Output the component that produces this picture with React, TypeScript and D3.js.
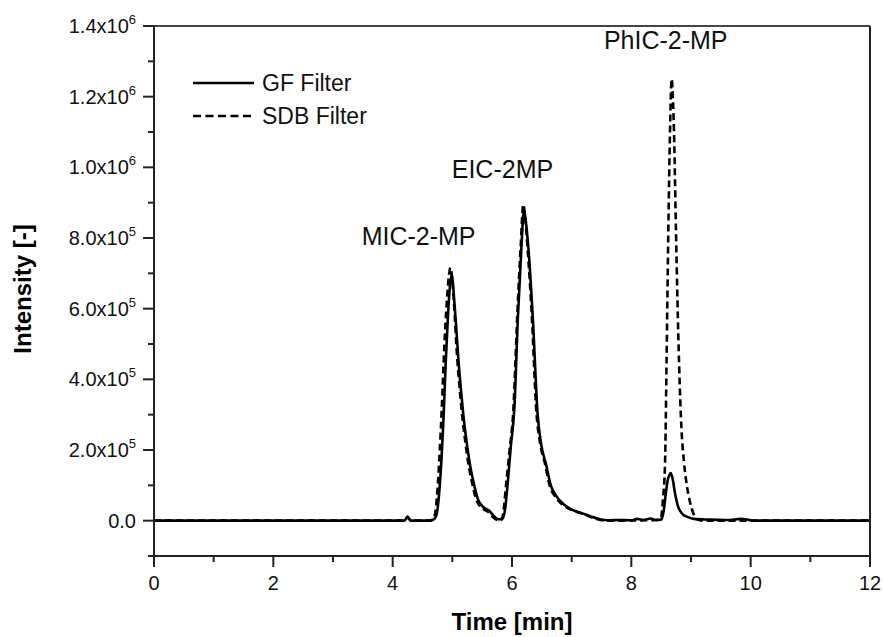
import React from "react";
import * as d3 from "d3";

// ---- Data (time in min, intensity in counts) ----
const gfTime = [0, 4.2, 4.25, 4.3, 4.62, 4.7, 4.74, 4.78, 4.82, 4.85, 4.89, 4.93, 4.97, 4.995, 5.02, 5.06, 5.1, 5.15, 5.19, 5.25, 5.31, 5.36, 5.43, 5.52, 5.62, 5.7, 5.77, 5.84, 5.89, 5.93, 5.98, 6.04, 6.1, 6.16, 6.2, 6.23, 6.28, 6.35, 6.43, 6.49, 6.57, 6.65, 6.74, 6.87, 7.02, 7.16, 7.32, 7.47, 7.6, 7.8, 8.0, 8.1, 8.2, 8.32, 8.4, 8.5, 8.54, 8.58, 8.61, 8.64, 8.66, 8.69, 8.73, 8.78, 8.85, 8.95, 9.05, 9.3, 9.6, 9.85, 9.92, 10.05, 12];
const gfIntensity = [0, 0, 12000, 0, 0, 5000, 20000, 80000, 180000, 280000, 450000, 590000, 680000, 695000, 650000, 560000, 460000, 360000, 290000, 210000, 145000, 105000, 60000, 38000, 28000, 12000, 4000, 5000, 40000, 110000, 210000, 320000, 580000, 780000, 880000, 850000, 760000, 570000, 300000, 215000, 160000, 100000, 70000, 46000, 30000, 22000, 12000, 4000, 1000, 2000, 1000, 5000, 2000, 6000, 2000, 3000, 25000, 80000, 115000, 130000, 135000, 120000, 80000, 42000, 20000, 10000, 5000, 3000, 2000, 5000, 4000, 0, 0];

const sdbTime = [0, 4.2, 4.25, 4.3, 4.6, 4.68, 4.72, 4.76, 4.79, 4.82, 4.865, 4.9, 4.94, 4.97, 5.0, 5.04, 5.07, 5.12, 5.16, 5.22, 5.28, 5.32, 5.4, 5.5, 5.6, 5.68, 5.75, 5.82, 5.86, 5.9, 5.96, 6.02, 6.09, 6.145, 6.19, 6.22, 6.26, 6.33, 6.41, 6.47, 6.55, 6.63, 6.72, 6.85, 7.0, 7.14, 7.3, 7.45, 7.6, 8.45, 8.5, 8.53, 8.565, 8.59, 8.62, 8.648, 8.676, 8.7, 8.715, 8.748, 8.8, 8.84, 8.88, 8.93, 8.98, 9.04, 9.1, 9.2, 12];
const sdbIntensity = [0, 0, 10000, 0, 0, 5000, 30000, 110000, 200000, 305000, 490000, 600000, 690000, 716000, 680000, 580000, 490000, 380000, 305000, 220000, 150000, 116000, 60000, 35000, 25000, 10000, 2000, 2000, 30000, 100000, 200000, 305000, 587000, 774000, 895000, 860000, 774000, 587000, 305000, 220000, 163000, 100000, 69000, 45000, 30000, 22000, 12000, 3000, 0, 2000, 10000, 60000, 163000, 445000, 820000, 1100000, 1250000, 1180000, 1100000, 820000, 445000, 260000, 170000, 100000, 55000, 20000, 4000, 0, 0];

const xTicks = [0, 2, 4, 6, 8, 10, 12];
const xMinorTicks = [1, 3, 5, 7, 9, 11];
const yTicks = [0, 200000, 400000, 600000, 800000, 1000000, 1200000, 1400000];
const yTickMantissa = ["0.0", "2.0", "4.0", "6.0", "8.0", "1.0", "1.2", "1.4"];
const yTickExponent = ["", "5", "5", "5", "5", "6", "6", "6"];
const yMinorTicks = [-100000, 100000, 300000, 500000, 700000, 900000, 1100000, 1300000];

const seriesNames = ["GF Filter", "SDB Filter"];
const peakLabels = ["MIC-2-MP", "EIC-2MP", "PhIC-2-MP"];
const peakLabelTime = [3.48, 4.99, 7.54];
const peakLabelIntensity = [780000, 970000, 1335000];

const W = 883;
const H = 637;
const M = { left: 154, right: 870, top: 26, bottom: 556 };
const FONT = "'Liberation Sans', Arial, Helvetica, sans-serif";

export default function App() {
  const x = d3.scaleLinear().domain([0, 12]).range([M.left, M.right]);
  const y = d3.scaleLinear().domain([-100000, 1400000]).range([M.bottom, M.top]);

  const line = d3
    .line<[number, number]>()
    .x((d) => x(d[0]))
    .y((d) => y(d[1]))
    .curve(d3.curveMonotoneX);

  const gfData = gfTime.map((t, i) => [t, gfIntensity[i]] as [number, number]);
  const sdbData = sdbTime.map((t, i) => [t, sdbIntensity[i]] as [number, number]);

  const axisColor = "#222";

  return (
    <svg
      width={W}
      height={H}
      style={{ position: "absolute", left: 0, top: 0, background: "#fff" }}
      fontFamily={FONT}
    >
      <rect x={0} y={0} width={W} height={H} fill="#fff" />
      <defs>
        <clipPath id="plotClip">
          <rect x={M.left} y={M.top} width={M.right - M.left} height={M.bottom - M.top} />
        </clipPath>
      </defs>

      {/* series */}
      <g clipPath="url(#plotClip)" fill="none" strokeLinejoin="round">
        <path d={line(sdbData) || ""} stroke="#000" strokeWidth={2.6} strokeDasharray="7,4" />
        <path d={line(gfData) || ""} stroke="#000" strokeWidth={2.6} />
      </g>

      {/* frame */}
      <g stroke={axisColor} strokeWidth={2} fill="none">
        <line x1={M.left} x2={M.right} y1={M.top} y2={M.top} stroke="#444" />
        <line x1={M.right} x2={M.right} y1={M.top} y2={M.bottom} />
        <line x1={M.left} x2={M.left} y1={M.top} y2={M.bottom} />
        <line x1={M.left} x2={M.right} y1={M.bottom} y2={M.bottom} />
      </g>

      {/* y ticks */}
      <g stroke={axisColor} strokeWidth={2}>
        {yTicks.map((v) => (
          <line key={"ym" + v} x1={M.left - 11} x2={M.left} y1={y(v)} y2={y(v)} />
        ))}
        {yMinorTicks.map((v) => (
          <line key={"yn" + v} x1={M.left - 6} x2={M.left} y1={y(v)} y2={y(v)} />
        ))}
      </g>
      <g fontSize={20} fill="#111">
        {yTicks.map((v, i) => (
          <text key={"yl" + v} x={136} y={y(v) + 7} textAnchor="end">
            {yTickMantissa[i]}
            {yTickExponent[i] ? "x10" : ""}
            {yTickExponent[i] ? (
              <tspan dy={-9} fontSize={13}>
                {yTickExponent[i]}
              </tspan>
            ) : null}
          </text>
        ))}
      </g>

      {/* x ticks */}
      <g stroke={axisColor} strokeWidth={2}>
        {xTicks.map((v) => (
          <line key={"xm" + v} x1={x(v)} x2={x(v)} y1={M.bottom} y2={M.bottom + 11} />
        ))}
        {xMinorTicks.map((v) => (
          <line key={"xn" + v} x1={x(v)} x2={x(v)} y1={M.bottom} y2={M.bottom + 6} />
        ))}
      </g>
      <g fontSize={20} fill="#111" textAnchor="middle">
        {xTicks.map((v) => (
          <text key={"xl" + v} x={x(v)} y={590}>
            {v}
          </text>
        ))}
      </g>

      {/* axis titles */}
      <text x={512} y={630} textAnchor="middle" fontSize={24} fontWeight="bold" fill="#000">
        Time [min]
      </text>
      <text
        transform={`translate(31, 289) rotate(-90)`}
        textAnchor="middle"
        fontSize={24}
        fontWeight="bold"
        fill="#000"
      >
        Intensity [-]
      </text>

      {/* legend */}
      <g>
        <line x1={193} x2={254} y1={83} y2={83} stroke="#000" strokeWidth={2.6} />
        <text x={262} y={91} fontSize={23} fill="#111">
          {seriesNames[0]}
        </text>
        <line x1={193} x2={254} y1={116} y2={116} stroke="#000" strokeWidth={2.6} strokeDasharray="8,4.5" />
        <text x={262} y={124} fontSize={23} fill="#111">
          {seriesNames[1]}
        </text>
      </g>

      {/* peak labels */}
      <g fontSize={25} fill="#111">
        {peakLabels.map((s, i) => (
          <text key={s} x={x(peakLabelTime[i])} y={y(peakLabelIntensity[i])}>
            {s}
          </text>
        ))}
      </g>
    </svg>
  );
}
